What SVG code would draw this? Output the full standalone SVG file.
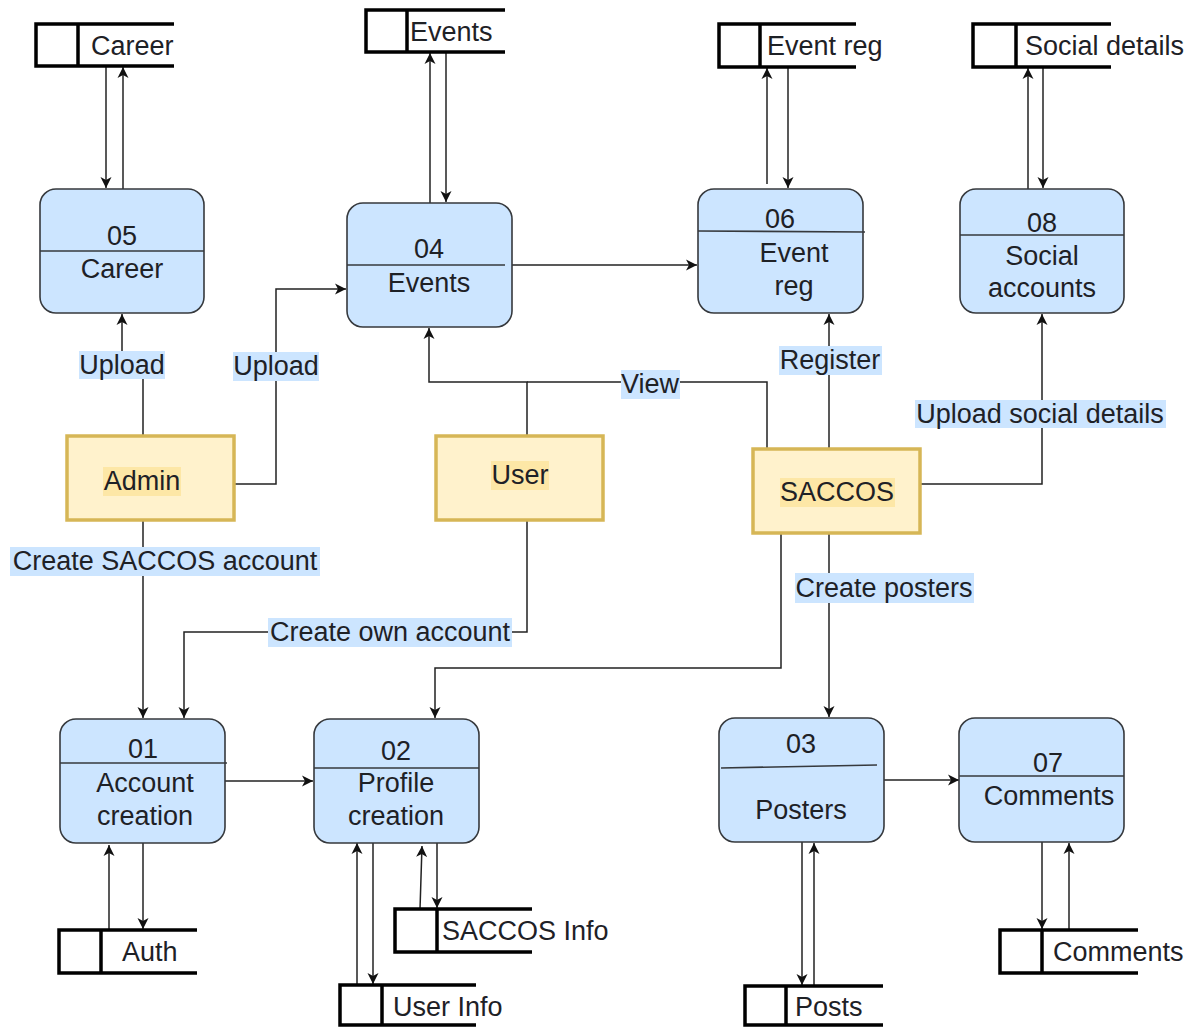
<svg xmlns="http://www.w3.org/2000/svg" width="1195" height="1027" viewBox="0 0 1195 1027">
<defs>
<marker id="arr" markerUnits="userSpaceOnUse" markerWidth="12" markerHeight="12" viewBox="0 0 12 12" refX="11" refY="6" orient="auto">
<path d="M0,0.5 L11,6 L0,11.5 L3,6 Z" fill="#111"/>
</marker>
<style>
text{font-family:"Liberation Sans",Arial,sans-serif;font-size:27px;fill:#1e2126}
.proc{fill:#cce5ff;stroke:#36393d;stroke-width:1.6}
.div{stroke:#36393d;stroke-width:1.6}
.ent{fill:#fff2cc;stroke:#d6b656;stroke-width:3.5}
.hl{fill:#fde7a6}
.store{fill:none;stroke:#000;stroke-width:3.5}
.lbl{fill:#cce5ff}
.e{fill:none;stroke:#222;stroke-width:1.5}
.a{marker-end:url(#arr)}
.c{text-anchor:middle}
</style>
</defs>
<rect width="1195" height="1027" fill="#fff"/>

<g id="connectors">
<path class="e a" d="M106,66 V188"/>
<path class="e a" d="M123,189 V67"/>
<path class="e a" d="M143,436 V365 H122 V314"/>
<path class="e a" d="M234,484 H276 V289 H346"/>
<path class="e a" d="M143,520 V718"/>
<path class="e a" d="M527,520 V632 H184 V718"/>
<path class="e a" d="M527,436 V382 H429 V328"/>
<path class="e" d="M767,449 V382 H527"/>
<path class="e a" d="M829,449 V314"/>
<path class="e a" d="M920,484 H1042 V314"/>
<path class="e a" d="M781,533 V668 H435 V718"/>
<path class="e a" d="M829,533 V717"/>
<path class="e a" d="M430,203 V53"/>
<path class="e a" d="M446,52 V202"/>
<path class="e a" d="M512,265 H697"/>
<path class="e a" d="M767,184 V68"/>
<path class="e a" d="M788,67 V188"/>
<path class="e a" d="M1028,189 V68"/>
<path class="e a" d="M1043,67 V188"/>
<path class="e a" d="M225,781 H313"/>
<path class="e a" d="M109,930 V845"/>
<path class="e a" d="M143,843 V929"/>
<path class="e a" d="M357,985 V843"/>
<path class="e a" d="M373,843 V984"/>
<path class="e a" d="M420,909 L422,846"/>
<path class="e a" d="M437,843 V908"/>
<path class="e a" d="M802,842 V985"/>
<path class="e a" d="M814,986 V843"/>
<path class="e a" d="M884,780 H959"/>
<path class="e a" d="M1042,842 V929"/>
<path class="e a" d="M1069,930 V843"/>

<rect class="lbl" x="79" y="351" width="86" height="28"/>
<text class="c" x="122" y="374">Upload</text>
<rect class="lbl" x="233" y="352" width="86" height="29"/>
<text class="c" x="276" y="375">Upload</text>
<rect class="lbl" x="10" y="547" width="310" height="29"/>
<text class="c" x="165" y="570">Create SACCOS account</text>
<rect class="lbl" x="268" y="618" width="244" height="29"/>
<text class="c" x="390" y="641">Create own account</text>
<rect class="lbl" x="621" y="370" width="59" height="29"/>
<text class="c" x="650" y="393">View</text>
<rect class="lbl" x="779" y="346" width="103" height="29"/>
<text class="c" x="830" y="369">Register</text>
<rect class="lbl" x="915" y="400" width="251" height="28"/>
<text class="c" x="1040" y="423">Upload social details</text>
<rect class="lbl" x="795" y="573" width="179" height="30"/>
<text class="c" x="884" y="597">Create posters</text>
</g>

<g id="store-career">
<path class="store" d="M174,24 H36 V66 H174 M78,24 V66"/>
<text x="91" y="55">Career</text>
</g>
<g id="store-events">
<path class="store" d="M505,10 H366 V52 H505 M407,10 V52"/>
<text x="410" y="41">Events</text>
</g>
<g id="store-eventreg">
<path class="store" d="M856,24 H719 V67 H856 M760,24 V67"/>
<text x="767" y="55">Event reg</text>
</g>
<g id="store-social">
<path class="store" d="M1111,24 H973 V67 H1111 M1016,24 V67"/>
<text x="1025" y="55">Social details</text>
</g>
<g id="store-auth">
<path class="store" d="M197,930 H59 V973 H197 M101,930 V973"/>
<text x="122" y="961">Auth</text>
</g>
<g id="store-saccosinfo">
<path class="store" d="M532,909 H395 V952 H532 M437,909 V952"/>
<text x="442" y="940">SACCOS Info</text>
</g>
<g id="store-userinfo">
<path class="store" d="M476,985 H340 V1025 H476 M382,985 V1025"/>
<text x="393" y="1016">User Info</text>
</g>
<g id="store-posts">
<path class="store" d="M883,986 H745 V1025 H883 M786,986 V1025"/>
<text x="795" y="1016">Posts</text>
</g>
<g id="store-comments">
<path class="store" d="M1138,930 H1000 V973 H1138 M1042,930 V973"/>
<text x="1053" y="961">Comments</text>
</g>

<g id="p05">
<rect class="proc" x="40" y="189" width="164" height="124" rx="16"/>
<line class="div" x1="40" y1="251" x2="204" y2="251"/>
<text class="c" x="122" y="245">05</text>
<text class="c" x="122" y="278">Career</text>
</g>
<g id="p04">
<rect class="proc" x="347" y="203" width="165" height="124" rx="16"/>
<line class="div" x1="347" y1="265" x2="505" y2="265"/>
<text class="c" x="429" y="258">04</text>
<text class="c" x="429" y="292">Events</text>
</g>
<g id="p06">
<rect class="proc" x="698" y="189" width="165" height="124" rx="16"/>
<line class="div" x1="698" y1="231" x2="865" y2="232"/>
<text class="c" x="780" y="228">06</text>
<text class="c" x="794" y="262">Event</text>
<text class="c" x="794" y="295">reg</text>
</g>
<g id="p08">
<rect class="proc" x="960" y="189" width="164" height="124" rx="16"/>
<line class="div" x1="960" y1="235" x2="1124" y2="235"/>
<text class="c" x="1042" y="232">08</text>
<text class="c" x="1042" y="265">Social</text>
<text class="c" x="1042" y="297">accounts</text>
</g>
<g id="p01">
<rect class="proc" x="60" y="719" width="165" height="124" rx="16"/>
<line class="div" x1="60" y1="763" x2="227" y2="763"/>
<text class="c" x="143" y="758">01</text>
<text class="c" x="145" y="792">Account</text>
<text class="c" x="145" y="825">creation</text>
</g>
<g id="p02">
<rect class="proc" x="314" y="719" width="165" height="124" rx="16"/>
<line class="div" x1="314" y1="768" x2="479" y2="768"/>
<text class="c" x="396" y="760">02</text>
<text class="c" x="396" y="792">Profile</text>
<text class="c" x="396" y="825">creation</text>
</g>
<g id="p03">
<rect class="proc" x="719" y="718" width="165" height="124" rx="16"/>
<line class="div" x1="721" y1="768" x2="877" y2="765"/>
<text class="c" x="801" y="753">03</text>
<text class="c" x="801" y="819">Posters</text>
</g>
<g id="p07">
<rect class="proc" x="959" y="718" width="165" height="124" rx="16"/>
<line class="div" x1="959" y1="776" x2="1124" y2="776"/>
<text class="c" x="1048" y="772">07</text>
<text class="c" x="1049" y="805">Comments</text>
</g>

<g id="admin">
<rect class="ent" x="67" y="436" width="167" height="84"/>
<rect class="hl" x="103" y="467" width="78" height="29"/>
<text class="c" x="142" y="490">Admin</text>
</g>
<g id="user">
<rect class="ent" x="436" y="436" width="167" height="84"/>
<rect class="hl" x="491" y="461" width="58" height="29"/>
<text class="c" x="520" y="484">User</text>
</g>
<g id="saccos">
<rect class="ent" x="753" y="449" width="167" height="84"/>
<rect class="hl" x="780" y="478" width="115" height="29"/>
<text class="c" x="837" y="501">SACCOS</text>
</g>
</svg>
